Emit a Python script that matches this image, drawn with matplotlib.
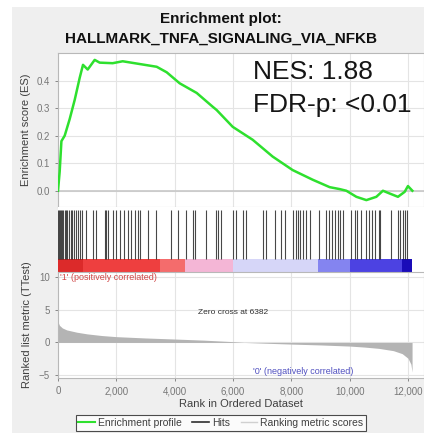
import matplotlib
matplotlib.use('Agg')
import matplotlib.pyplot as plt
from matplotlib.patches import Rectangle
from matplotlib.lines import Line2D

plt.rcParams['font.family'] = ['Liberation Sans', 'DejaVu Sans']

# running enrichment score (rank, ES)
es_rank = [0, 58, 117, 230, 400, 573, 744, 857, 1018, 1258, 1430, 1875, 2218, 2800,
           3384, 3727, 4172, 4755, 5303, 5440, 5990, 6675, 7360, 8046, 8732, 9315,
           9657, 9887, 10230, 10573, 10915, 11141, 11371, 11656, 11886, 11999, 12150]
es_vals = [0.0, 0.07, 0.18, 0.20, 0.26, 0.33, 0.41, 0.457, 0.44, 0.475, 0.465, 0.463,
           0.47, 0.46, 0.45, 0.43, 0.39, 0.355, 0.305, 0.293, 0.232, 0.185, 0.124,
           0.075, 0.04, 0.013, 0.006, 0.0, -0.022, -0.034, -0.022, 0.0, -0.01,
           -0.022, -0.004, 0.017, 0.0]

# gene set hits (rank positions)
hits = [7, 41, 75, 110, 144, 178, 230, 264, 315, 367, 435, 487, 538, 607, 675, 744,
        813, 974, 1200, 1292, 1601, 1652, 1714, 1886, 2002, 2139, 2259, 2400, 2516,
        2629, 2743, 2825, 3085, 3349, 3888, 4114, 4378, 4628, 4687, 5087, 5430, 5485,
        5602, 5999, 6116, 6342, 6459, 7028, 7144, 7429, 7659, 7772, 8056, 8149, 8228,
        8310, 8399, 8492, 8629, 8948, 9201, 9290, 9407, 9486, 9599, 9681, 9770, 10058,
        10171, 10250, 10401, 10548, 10662, 10778, 10857, 11005, 11053, 11430, 11646,
        11715, 11818, 11886, 11964]

# ranked list metric (rank, value)
metric_rank = [0, 50, 150, 300, 650, 1000, 1500, 2000, 3000, 4000, 5000, 6000, 6382,
               7000, 8000, 9000, 10000, 10500, 11000, 11500, 11800, 12000, 12100, 12140]
metric_vals = [3.1, 2.6, 2.2, 1.9, 1.55, 1.3, 1.05, 0.88, 0.68, 0.52, 0.35, 0.12, 0.0,
               -0.1, -0.25, -0.38, -0.55, -0.7, -0.9, -1.25, -1.7, -2.4, -3.3, -4.5]

# colour bar segments along the ranking
bar_edges = [0, 857, 3490, 4345, 5990, 8903, 10000, 11783, 12140]
bar_colors = ['#dc2a2a', '#ee3f3f', '#f46c6c', '#f4b6d6', '#d6d6f8', '#8484f0',
              '#4c42e2', '#1a0cb8']

xticks = [0, 2000, 4000, 6000, 8000, 10000, 12000]
xlabels = ['0', '2,000', '4,000', '6,000', '8,000', '10,000', '12,000']

W, H = 424, 433
fig = plt.figure(figsize=(W / 100, H / 100), dpi=100, facecolor='white')
fig.patches.append(Rectangle((12 / W, 0), 1, 1 - 7 / H, transform=fig.transFigure,
                             facecolor='#efefef', edgecolor='none', zorder=-10))

left = 58 / W
width = 1 - left
xmax = 12549
tick_col = '#777777'
grid_col = '#e4e4e4'

def fpos(top, bottom):
    return [left, 1 - bottom / H, width, (bottom - top) / H]

ax1 = fig.add_axes(fpos(53, 207))
ax2 = fig.add_axes(fpos(207, 272))
ax3 = fig.add_axes(fpos(272, 378))

for ax in (ax1, ax2, ax3):
    ax.set_xlim(0, xmax)
    ax.set_facecolor('white')
    for s in ax.spines.values():
        s.set_color('#b8b8b8')
        s.set_linewidth(0.8)
    ax.set_xticks(xticks)
    ax.grid(True, color=grid_col, linewidth=0.8)
    ax.set_axisbelow(True)
    ax.tick_params(colors=tick_col, labelsize=7, length=2.5, width=0.6)

# top: enrichment profile
ax1.set_ylim(-0.059, 0.50)
ax1.set_yticks([0.0, 0.1, 0.2, 0.3, 0.4])
ax1.set_yticklabels(['0.0', '0.1', '0.2', '0.3', '0.4'])
ax1.tick_params(axis='x', labelbottom=False, length=0)
ax1.axhline(0, color='#c8c8c8', linewidth=1.2, zorder=1)
ax1.plot(es_rank, es_vals, color='#2ee02e', linewidth=1.8, zorder=3)
ax1.set_ylabel('Enrichment score (ES)', fontsize=8, color='#404040', labelpad=4)
ax1.text(0.533, 0.877, 'NES: 1.88', transform=ax1.transAxes, fontsize=19,
         color='#151515', va='center', ha='left')
ax1.text(0.533, 0.665, 'FDR-p: <0.01', transform=ax1.transAxes, fontsize=19,
         color='#151515', va='center', ha='left')

# middle: hits + colour bar
ax2.set_ylim(0, 1)
ax2.set_yticks([])
ax2.tick_params(axis='x', labelbottom=False, length=0)
ax2.grid(False)
for s in ax2.spines.values():
    s.set_visible(False)
ax2.vlines(hits, 0.2, 0.954, color='#1a1a1a', linewidth=0.8, alpha=0.8)
for i in range(len(bar_colors)):
    ax2.axvspan(bar_edges[i], bar_edges[i + 1], ymin=0, ymax=0.2,
                color=bar_colors[i], linewidth=0)

# bottom: ranked list metric
ax3.set_ylim(-5.4, 10.7)
ax3.set_yticks([-5, 0, 5, 10])
ax3.set_xticklabels(xlabels)
ax3.fill_between(metric_rank, metric_vals, 0, color='#b4b4b4', linewidth=0)
ax3.set_ylabel('Ranked list metric (TTest)', fontsize=8, color='#404040', labelpad=5)
ax3.set_xlabel('Rank in Ordered Dataset', fontsize=8, color='#404040', labelpad=2)
ax3.text(80, 9.8, "'1' (positively correlated)", fontsize=6.5, color='#d04848',
         va='center', ha='left')
ax3.text(6000, 4.5, 'Zero cross at 6382', fontsize=6, color='#303030',
         va='center', ha='center')
ax3.text(8400, -4.4, "'0' (negatively correlated)", fontsize=6.5, color='#5050c0',
         va='center', ha='center')

handles = [Line2D([], [], color='#2ee02e', linewidth=1.5),
           Line2D([], [], color='#303030', linewidth=1.2),
           Line2D([], [], color='#d0d0d0', linewidth=1.0)]
leg = fig.legend(handles, ['Enrichment profile', 'Hits', 'Ranking metric scores'],
                 loc='center', bbox_to_anchor=(221 / W, 1 - 423 / H), ncol=3,
                 fontsize=7.5, frameon=True, fancybox=False, handlelength=1.6,
                 handletextpad=0.3, columnspacing=1.0, borderpad=0.25)
leg.get_frame().set_edgecolor('#202020')
leg.get_frame().set_linewidth(0.8)
for t in leg.get_texts():
    t.set_color('#404040')

fig.text(221 / W, 1 - 19 / H, 'Enrichment plot:', fontsize=11, fontweight='bold',
         ha='center', va='center', color='#101010')
fig.text(221 / W, 1 - 39 / H, 'HALLMARK_TNFA_SIGNALING_VIA_NFKB', fontsize=11,
         fontweight='bold', ha='center', va='center', color='#101010')

fig.savefig('out.png', dpi=100, facecolor=fig.get_facecolor())
